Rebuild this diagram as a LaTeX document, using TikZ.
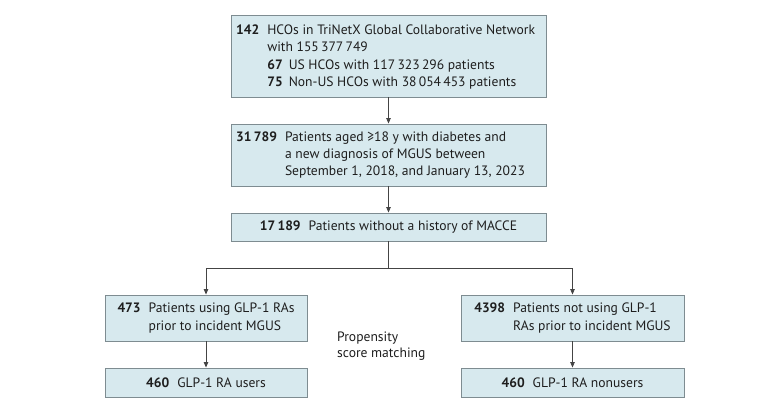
\documentclass[tikz,border=0pt]{standalone}
\usepackage{fontspec}
\setmainfont{PT Sans}
\usetikzlibrary{arrows.meta}
\definecolor{boxfill}{HTML}{D7E9EE}
\definecolor{boxline}{HTML}{7E8C91}
\definecolor{txt}{HTML}{1E1E1E}
\definecolor{arr}{HTML}{444444}
\tikzset{
  fbox/.style={draw=boxline, line width=0.9pt, fill=boxfill, inner sep=0pt, text=txt, font=\fontsize{13.6}{16.3}\selectfont},
  ftext/.style={text=txt, font=\fontsize{13.6}{16.3}\selectfont, inner sep=0pt},
  conn/.style={draw=arr, line width=0.8pt, -{Triangle[length=5.5pt,width=4.5pt]}},
  plain/.style={draw=arr, line width=0.8pt}
}
\newcommand{\nb}[1]{\textbf{#1}}
\begin{document}
\begin{tikzpicture}[x=1pt,y=-1pt]
\useasboundingbox (0,0) rectangle (780,418);
\renewcommand{\arraystretch}{1.07}
\node[fbox, minimum width=315pt, minimum height=82pt] (b1) at (388.5,56) {};
\node[ftext, anchor=west] (t1) at (236,57) {\begin{tabular}{@{}r@{\hspace{8pt}}l@{}}
\nb{142} & HCOs in TriNetX Global Collaborative Network\\
 & with 155\,377\,749\\
 & \nb{67}\hspace{6pt}US HCOs with 117\,323\,296 patients\\
 & \nb{75}\hspace{6pt}Non-US HCOs with 38\,054\,453 patients
\end{tabular}};
\node[fbox, minimum width=315pt, minimum height=62pt] (b2) at (388.5,155) {};
\node[ftext, anchor=west] (t2) at (236,155) {\begin{tabular}{@{}r@{\hspace{8pt}}l@{}}
\nb{31\,789} & Patients aged ≥18 y with diabetes and\\
 & a new diagnosis of MGUS between\\
 & September 1, 2018, and January 13, 2023
\end{tabular}};
\node[fbox, minimum width=315pt, minimum height=28pt] (b3) at (388.5,227) {\nb{17\,189}\hspace{8pt}Patients without a history of MACCE};
\node[fbox, minimum width=202pt, minimum height=46pt] (l1) at (206,318) {\begin{tabular}{@{}r@{\hspace{8pt}}l@{}}
\nb{473} & Patients using GLP-1 RAs\\
 & prior to incident MGUS
\end{tabular}};
\node[fbox, minimum width=202pt, minimum height=29pt] (l2) at (206,382.5) {\nb{460}\hspace{8pt}GLP-1 RA users};
\node[fbox, minimum width=223pt, minimum height=46pt] (r1) at (572.5,318) {\begin{tabular}{@{}r@{\hspace{8pt}}l@{}}
\nb{4398} & Patients not using GLP-1\\
 & RAs prior to incident MGUS
\end{tabular}};
\node[fbox, minimum width=223pt, minimum height=29pt] (r2) at (572.5,382.5) {\nb{460}\hspace{8pt}GLP-1 RA nonusers};
\node[ftext, anchor=west, align=left] (pm) at (337,346) {Propensity\\score matching};
\coordinate (sp) at (388.5,268);
\draw[conn] (b1.south) -- (b2.north);
\draw[conn] (b2.south) -- (b3.north);
\draw[plain] (b3.south) -- (sp);
\draw[conn] (sp) -| (l1.north);
\draw[conn] (sp) -| (r1.north);
\draw[conn] (l1.south) -- (l2.north);
\draw[conn] (r1.south) -- (r2.north);
\end{tikzpicture}
\end{document}
